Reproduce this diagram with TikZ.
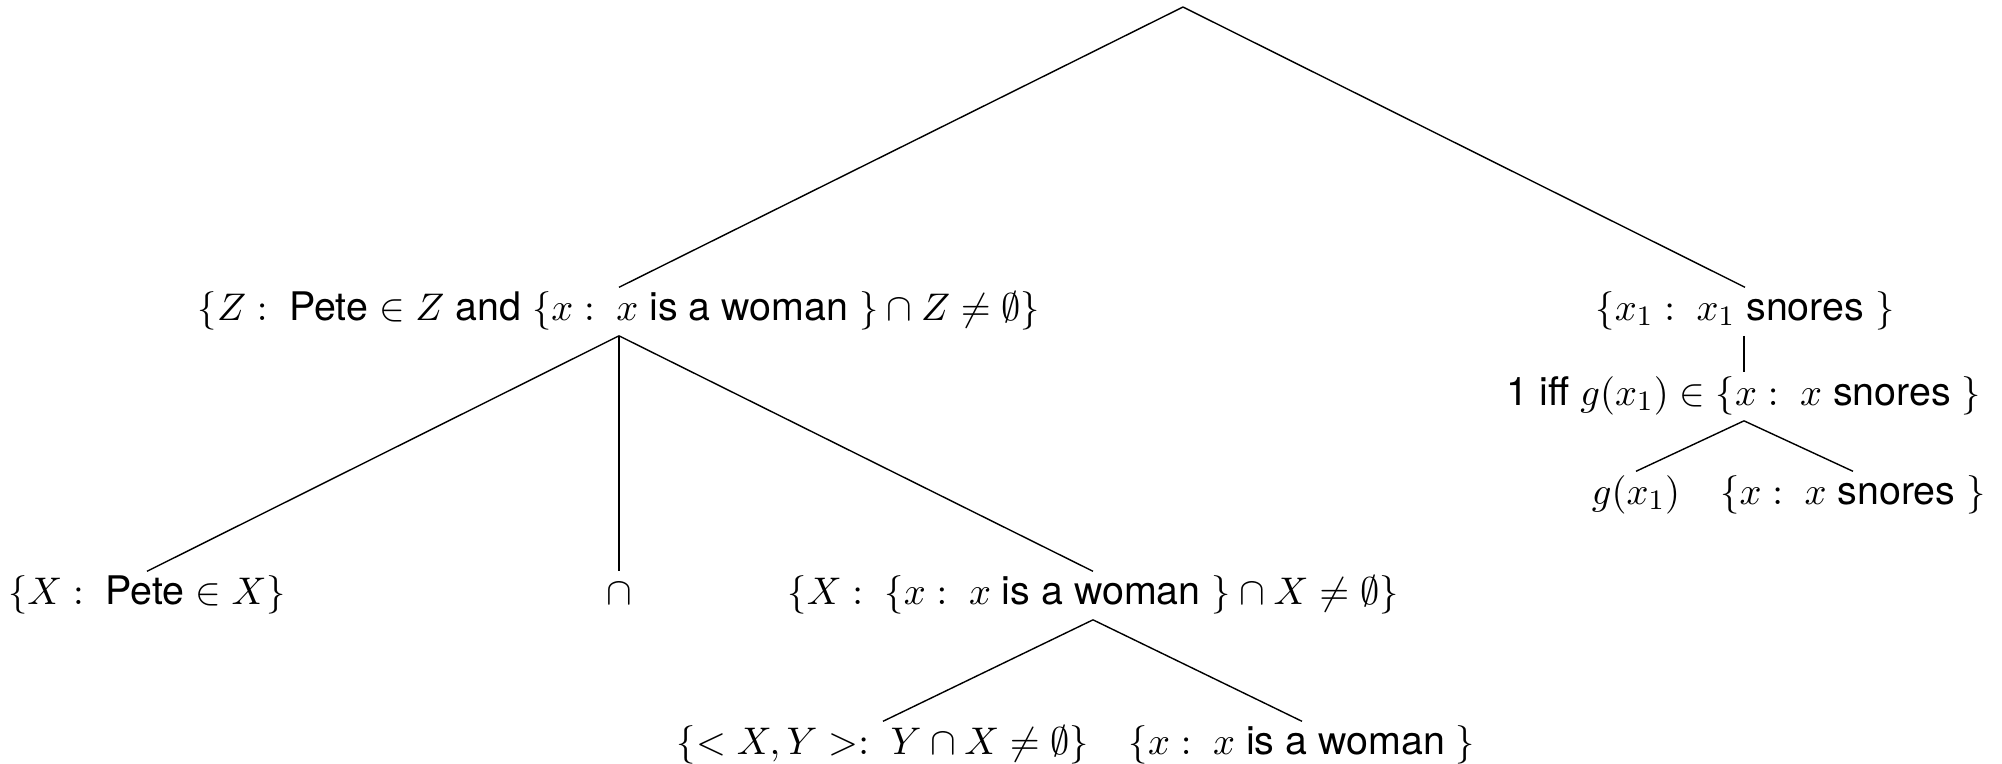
\documentclass[tikz,border=0pt]{standalone}
\usepackage{fontspec}
\setmainfont{TeX Gyre Heros}
\begin{document}
\begin{tikzpicture}[x=0.01cm,y=-0.01cm,font=\fontsize{11.2}{13.4}\selectfont]
        \tikzstyle{lbl}=[anchor=base,inner sep=1.5pt,text height=7.6pt,text depth=2.8pt]
        \useasboundingbox (0,0) rectangle (2002,763);
        \coordinate (root) at (1183,7);
        % first level
        \node[lbl] (pz) at (619,320) {$\{Z:{}$ Pete $\in Z$ and $\{x:{}$ $x$ is a woman $\}\cap Z\neq\emptyset\}$};
        \node[lbl] (px1) at (1745,320) {$\{x_1:{}$ $x_1$ snores $\}$};
        % right branch
        \node[lbl] (piff) at (1744,405) {1 iff $g(x_1)\in\{x:{}$ $x$ snores $\}$};
        \node[lbl] (pg) at (1636,504) {$g(x_1)$};
        \node[lbl] (psn) at (1853,504) {$\{x:{}$ $x$ snores $\}$};
        % left branch
        \node[lbl] (pete) at (147,604) {$\{X:{}$ Pete $\in X\}$};
        \node[lbl] (cap) at (619,604) {$\cap$};
        \node[lbl] (pxw) at (1093,604) {$\{X:{}$ $\{x:{}$ $x$ is a woman $\}\cap X\neq\emptyset\}$};
        \node[lbl] (rel) at (883,754) {$\{<X,Y>:{}$ $Y\cap X\neq\emptyset\}$};
        \node[lbl] (wom) at (1302,754) {$\{x:{}$ $x$ is a woman $\}$};
        % branches
        \draw (root) -- (pz.north);
        \draw (root) -- (px1.north);
        \draw (pz.south) -- (pete.north);
        \draw (pz.south) -- (cap.north);
        \draw (pz.south) -- (pxw.north);
        \draw (pxw.south) -- (rel.north);
        \draw (pxw.south) -- (wom.north);
        \draw (piff.north |- px1.south) -- (piff.north);
        \draw (piff.south) -- (pg.north);
        \draw (piff.south) -- (psn.north);
\end{tikzpicture}
\end{document}
